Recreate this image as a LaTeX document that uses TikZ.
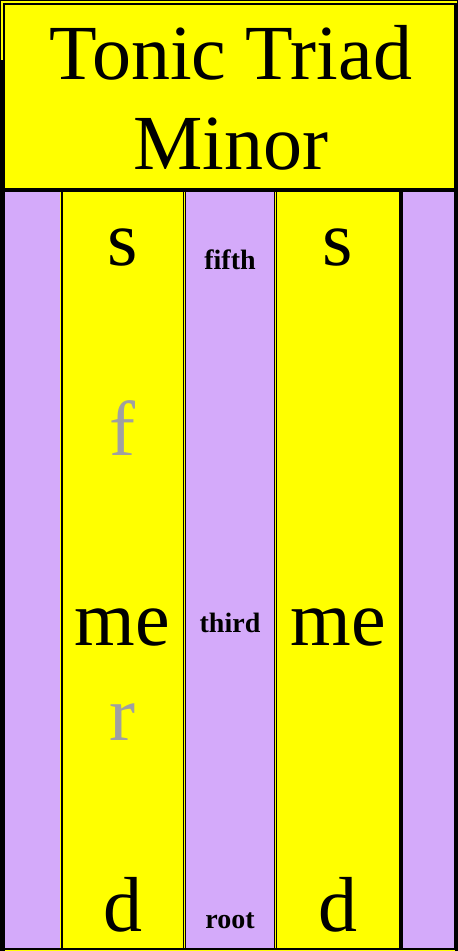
\documentclass[tikz,border=0pt]{standalone}
\usepackage{fontspec}
\setmainfont{Liberation Serif}
\definecolor{cellyellow}{RGB}{255,255,0}
\definecolor{cellpurple}{RGB}{212,170,250}
\definecolor{ghost}{RGB}{160,160,160}
\tikzset{
  big/.style={anchor=base, inner sep=0pt, font=\fontsize{78}{78}\selectfont},
  ghostnote/.style={big, text=ghost},
  degree/.style={anchor=base, inner sep=0pt, font=\fontsize{28}{28}\selectfont\bfseries}
}
\begin{document}
\begin{tikzpicture}[x=1pt, y=-1pt]
\useasboundingbox (0,0) rectangle (458,951);
% frame
\fill[black] (0,0) rectangle (458,951);
\fill[cellyellow] (1.4,1.4) rectangle (456.5,2.8);
\fill[cellyellow] (1.4,1.4) rectangle (2.8,60);
\fill[cellyellow] (5,5) rectangle (454,188);
% columns
\fill[cellpurple] (5,192) rectangle (60,947.5);
\fill[cellyellow] (60,192) rectangle (60.8,947.5);
\fill[cellyellow] (62.5,192) rectangle (183,947.5);
\fill[cellyellow] (184,192) rectangle (184.8,947.5);
\fill[cellpurple] (186,192) rectangle (274,947.5);
\fill[cellyellow] (275.2,192) rectangle (276,947.5);
\fill[cellyellow] (277,192) rectangle (399,947.5);
\fill[cellpurple] (403,192) rectangle (454,947.5);
\fill[cellyellow] (5,950) rectangle (455,951);
% title
\node[big] (t1) at (231,79) {Tonic Triad};
\node[big] (t2) at (231,169) {Minor};
% left column
\node[big] (ls) at (122.5,265) {s};
\node[ghostnote] (lf) at (122.5,455) {f};
\node[big] (lme) at (122.5,645) {me};
\node[ghostnote] (lr) at (122.5,740) {r};
\node[big] (ld) at (122.5,931) {d};
% middle column
\node[degree] (fifth) at (230,269) {fifth};
\node[degree] (third) at (230,632) {third};
\node[degree] (root) at (230,928) {root};
% right column
\node[big] (rs) at (338,265) {s};
\node[big] (rme) at (338,645) {me};
\node[big] (rd) at (338,931) {d};
\end{tikzpicture}
\end{document}
